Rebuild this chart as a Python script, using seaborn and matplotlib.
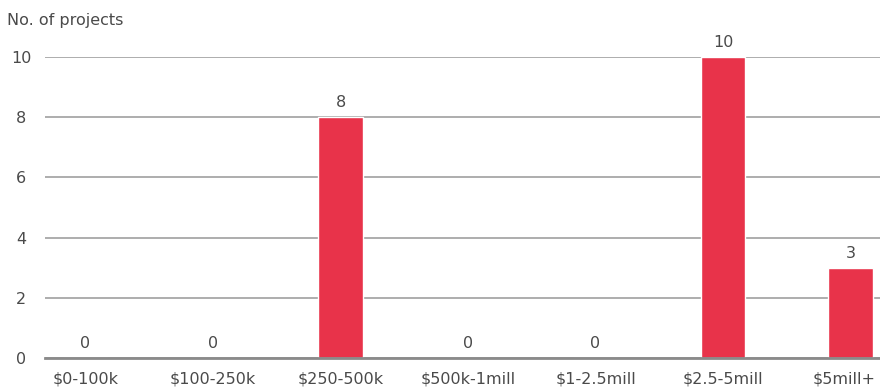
import matplotlib
matplotlib.use("Agg")
import matplotlib.pyplot as plt
import matplotlib.transforms as mtransforms
import seaborn as sns
import pandas as pd

categories = ["$0-100k", "$100-250k", "$250-500k", "$500k-1mill", "$1-2.5mill", "$2.5-5mill", "$5mill+"]
values = [0, 0, 8, 0, 0, 10, 3]
yticks = [0, 2, 4, 6, 8, 10]

sns.set_theme(style="white")
plt.rcParams['font.family'] = ['DejaVu Sans']

df = pd.DataFrame({"cat": categories, "val": values})

fig = plt.figure(figsize=(8.8, 3.89), dpi=100)
ax = fig.add_axes([45/880, 31/389, 1 - 45/880, (358-57)/389])

sns.barplot(data=df, x="cat", y="val", color="#E8334A", width=0.352, ax=ax, saturation=1)

ax.set_ylim(0, 10)
ax.set_xlim(-0.318, 6.231)
ax.set_yticks(yticks)
ax.set_yticklabels([str(t) for t in yticks])
ax.yaxis.grid(True, color="#a0a0a0", linewidth=1.2)
ax.set_axisbelow(True)
for s in ["top", "right", "left"]:
    ax.spines[s].set_visible(False)
ax.spines["bottom"].set_color("#8a8a8a")
ax.spines["bottom"].set_linewidth(2)
ax.tick_params(axis="both", length=0, labelsize=11.5, colors="#4a4a4a")
ax.tick_params(axis="x", pad=10)
ax.tick_params(axis="y", pad=17)
ax.set_xlabel("")
ax.set_ylabel("")
for lab in ax.get_yticklabels():
    lab.set_horizontalalignment("center")

# keep the last category label inside the figure
last = ax.get_xticklabels()[-1]
last.set_transform(last.get_transform() + mtransforms.ScaledTranslation(-6/100, 0, fig.dpi_scale_trans))

for c in ax.containers:
    ax.bar_label(c, labels=[str(v) for v in values], padding=5, fontsize=11.5, color="#4a4a4a")

fig.text(7/880, 1 - 20/389, "No. of projects", fontsize=11.5, color="#4a4a4a", va="center", ha="left")

fig.savefig("out.png", dpi=100)
